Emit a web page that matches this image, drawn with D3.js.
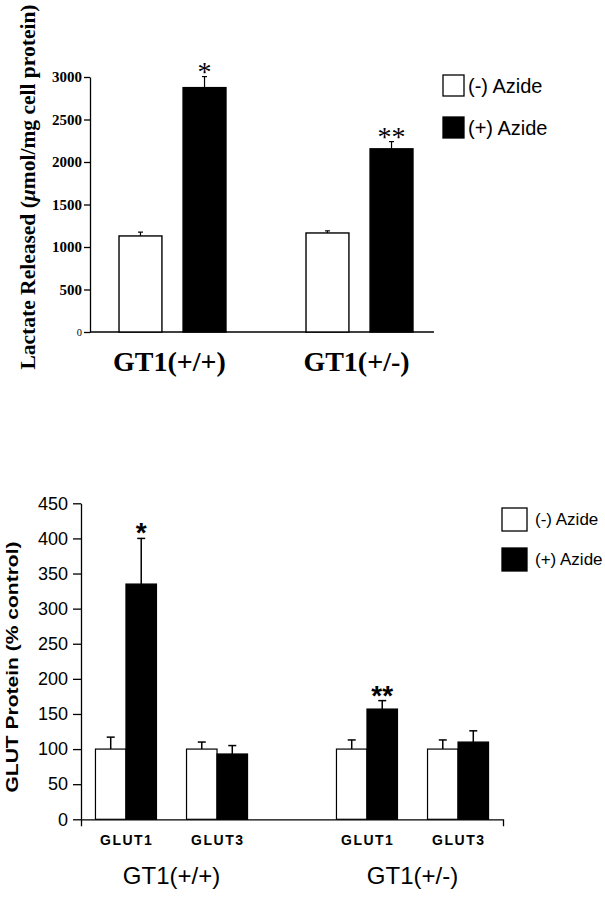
<!DOCTYPE html>
<html>
<head>
<meta charset="utf-8">
<script src="https://cdn.jsdelivr.net/npm/d3@7"></script>
<style>
  html, body { margin: 0; padding: 0; background: #fff; }
  svg { display: block; }
</style>
</head>
<body>
<div id="chart"></div>
<script>
// ---------- DATA ----------
const seriesNames = ["(-) Azide", "(+) Azide"];

// Top panel: lactate released
const lactateGroups = ["GT1(+/+)", "GT1(+/-)"];
const lactateMinus = [1130, 1165];
const lactatePlus = [2875, 2155];
const lactateMinusErr = [45, 25];
const lactatePlusErr = [130, 85];
const lactateSig = ["*", "**"];
const lactateTicks = [0, 500, 1000, 1500, 2000, 2500, 3000];

// Bottom panel: GLUT protein
const glutGenotypes = ["GT1(+/+)", "GT1(+/-)"];
const glutIsoforms = ["GLUT1", "GLUT3"];
// order: (+/+)GLUT1, (+/+)GLUT3, (+/-)GLUT1, (+/-)GLUT3
const glutMinus = [100, 100, 100, 100];
const glutPlus = [335, 93, 157, 110];
const glutMinusErr = [17, 10, 13, 13];
const glutPlusErr = [65, 12, 12, 16];
const glutSig = ["*", "", "**", ""];
const glutTicks = [0, 50, 100, 150, 200, 250, 300, 350, 400, 450];

// ---------- SVG ----------
const W = 605, H = 900;
const svg = d3.select("#chart").append("svg").attr("width", W).attr("height", H);
const serif = "'Liberation Serif', 'Times New Roman', serif";
const sans = "'Liberation Sans', Arial, sans-serif";
const fillFor = s => s === seriesNames[0] ? "#fff" : "#000";

// ================= TOP PANEL =================
(function () {
  const axisX = 90, x1 = 434;
  const y = d3.scaleLinear().domain([0, 3000]).range([332, 77]);
  const x0 = d3.scaleBand().domain(lactateGroups).range([79, 453]).paddingInner(0.428).paddingOuter(0.214);
  const xs = d3.scaleBand().domain(seriesNames).range([0, x0.bandwidth()]).paddingInner(0.33).paddingOuter(0);

  const g = svg.append("g");

  // y axis
  const ya = g.append("g").attr("transform", `translate(${axisX},0)`)
    .call(d3.axisLeft(y).tickValues(lactateTicks).tickSize(6).tickSizeOuter(0).tickPadding(2).tickFormat(d3.format("d")));
  ya.select(".domain").attr("stroke", "#000").attr("stroke-width", 1.3);
  ya.selectAll(".tick line").attr("stroke", "#000").attr("stroke-width", 1.3);
  ya.selectAll(".tick text").attr("font-family", serif).attr("font-weight", "bold")
    .attr("font-size", 15).attr("fill", "#000");
  ya.selectAll(".tick text").filter(d => d === 0).attr("font-size", 10.5).attr("font-weight", "normal");

  // baseline
  g.append("line").attr("x1", axisX).attr("x2", x1).attr("y1", y(0)).attr("y2", y(0))
    .attr("stroke", "#000").attr("stroke-width", 1.3);

  const rows = [];
  lactateGroups.forEach((grp, i) => {
    rows.push({ grp, s: seriesNames[0], v: lactateMinus[i], e: lactateMinusErr[i], sig: "" });
    rows.push({ grp, s: seriesNames[1], v: lactatePlus[i], e: lactatePlusErr[i], sig: lactateSig[i] });
  });

  // error bars (upper only)
  rows.forEach(r => {
    const cx = x0(r.grp) + xs(r.s) + xs.bandwidth() / 2;
    g.append("line").attr("x1", cx).attr("x2", cx).attr("y1", y(r.v)).attr("y2", y(r.v + r.e))
      .attr("stroke", "#000").attr("stroke-width", 1.2);
    g.append("line").attr("x1", cx - 2.5).attr("x2", cx + 2.5).attr("y1", y(r.v + r.e)).attr("y2", y(r.v + r.e))
      .attr("stroke", "#000").attr("stroke-width", 1.2);
    if (r.sig) {
      g.append("text").attr("x", cx).attr("y", y(r.v + r.e) + 4).attr("text-anchor", "middle")
        .attr("font-family", serif).attr("font-size", 28).attr("fill", "#000").text(r.sig);
    }
  });

  g.selectAll("rect.bar").data(rows).join("rect").attr("class", "bar")
    .attr("x", d => x0(d.grp) + xs(d.s))
    .attr("y", d => y(d.v))
    .attr("width", xs.bandwidth())
    .attr("height", d => y(0) - y(d.v))
    .attr("fill", d => fillFor(d.s))
    .attr("stroke", "#000").attr("stroke-width", 1.4);

  // group labels
  g.selectAll("text.grp").data(lactateGroups).join("text").attr("class", "grp")
    .attr("x", d => x0(d) + x0.bandwidth() / 2 - 3)
    .attr("y", 371).attr("text-anchor", "middle")
    .attr("font-family", serif).attr("font-weight", "bold").attr("font-size", 28).attr("fill", "#000")
    .text(d => d);

  // y label
  const yl = g.append("text").attr("transform", "translate(35,187) rotate(-90)")
    .attr("text-anchor", "middle").attr("font-family", serif).attr("font-weight", "bold")
    .attr("font-size", 21.5).attr("fill", "#000");
  yl.append("tspan").text("Lactate Released (");
  yl.append("tspan").attr("font-style", "italic").text("\u03bc");
  yl.append("tspan").text("mol/mg cell protein)");

  // legend
  const lg = g.append("g");
  seriesNames.forEach((s, i) => {
    lg.append("rect").attr("x", 443).attr("y", 75 + i * 42).attr("width", 21).attr("height", 21)
      .attr("fill", fillFor(s)).attr("stroke", "#000").attr("stroke-width", 1.3);
    lg.append("text").attr("x", 468).attr("y", 93 + i * 42).attr("font-family", sans)
      .attr("font-size", 20).attr("fill", "#000").text(s);
  });
})();

// ================= BOTTOM PANEL =================
(function () {
  const axisX = 81;
  const y = d3.scaleLinear().domain([0, 450]).range([819.3, 503.3]);
  const x0 = d3.scaleBand().domain(glutGenotypes).range([81, 503]).paddingInner(0.369).paddingOuter(0.06);
  const xi = d3.scaleBand().domain(glutIsoforms).range([0, x0.bandwidth()]).paddingInner(0.33).paddingOuter(0);
  const xs = d3.scaleBand().domain(seriesNames).range([0, xi.bandwidth()]).padding(0);

  const g = svg.append("g");

  // y axis
  const ya = g.append("g").attr("transform", `translate(${axisX},0)`)
    .call(d3.axisLeft(y).tickValues(glutTicks).tickSize(8).tickSizeOuter(0).tickPadding(5).tickFormat(d3.format("d")));
  ya.select(".domain").attr("stroke", "#000").attr("stroke-width", 1.3);
  ya.selectAll(".tick line").attr("stroke", "#000").attr("stroke-width", 1.3);
  ya.selectAll(".tick text").attr("font-family", sans).attr("font-size", 18).attr("fill", "#000");

  // x axis (domain only, outer ticks pointing down)
  const xa = g.append("g").attr("transform", `translate(0,${y(0)})`)
    .call(d3.axisBottom(x0).tickSize(0).tickSizeOuter(7).tickFormat(""));
  xa.select(".domain").attr("stroke", "#000").attr("stroke-width", 1.3);

  const rows = [];
  let k = 0;
  glutGenotypes.forEach(gt => {
    glutIsoforms.forEach(iso => {
      rows.push({ gt, iso, s: seriesNames[0], v: glutMinus[k], e: glutMinusErr[k], sig: "" });
      rows.push({ gt, iso, s: seriesNames[1], v: glutPlus[k], e: glutPlusErr[k], sig: glutSig[k] });
      k++;
    });
  });
  const bx = d => x0(d.gt) + xi(d.iso) + xs(d.s);

  rows.forEach(r => {
    const cx = bx(r) + xs.bandwidth() / 2;
    g.append("line").attr("x1", cx).attr("x2", cx).attr("y1", y(r.v)).attr("y2", y(r.v + r.e))
      .attr("stroke", "#000").attr("stroke-width", 1.5);
    g.append("line").attr("x1", cx - 4).attr("x2", cx + 4).attr("y1", y(r.v + r.e)).attr("y2", y(r.v + r.e))
      .attr("stroke", "#000").attr("stroke-width", 1.5);
    if (r.sig) {
      g.append("text").attr("x", cx).attr("y", y(r.v + r.e) + 4).attr("text-anchor", "middle")
        .attr("font-family", sans).attr("font-weight", "bold").attr("font-size", 28).attr("fill", "#000").text(r.sig);
    }
  });

  g.selectAll("rect.bar").data(rows).join("rect").attr("class", "bar")
    .attr("x", bx)
    .attr("y", d => y(d.v))
    .attr("width", xs.bandwidth())
    .attr("height", d => y(0) - y(d.v))
    .attr("fill", d => fillFor(d.s))
    .attr("stroke", "#000").attr("stroke-width", 1.2);

  // isoform labels
  glutGenotypes.forEach(gt => {
    glutIsoforms.forEach(iso => {
      g.append("text").attr("x", x0(gt) + xi(iso) + xi.bandwidth() / 2 + 0.75).attr("y", 845)
        .attr("text-anchor", "middle").attr("font-family", sans).attr("font-weight", "bold")
        .attr("font-size", 14).attr("letter-spacing", 1.5).attr("fill", "#000").text(iso);
    });
  });

  // genotype labels
  g.selectAll("text.grp").data(glutGenotypes).join("text").attr("class", "grp")
    .attr("x", d => x0(d) + x0.bandwidth() / 2)
    .attr("y", 884).attr("text-anchor", "middle")
    .attr("font-family", sans).attr("font-size", 24).attr("fill", "#000").text(d => d);

  // y label
  g.append("text").attr("transform", "translate(18,667) rotate(-90)")
    .attr("text-anchor", "middle").attr("font-family", sans).attr("font-weight", "bold")
    .attr("font-size", 16).attr("textLength", 251).attr("lengthAdjust", "spacingAndGlyphs")
    .attr("fill", "#000").text("GLUT Protein (% control)");

  // legend
  seriesNames.forEach((s, i) => {
    g.append("rect").attr("x", 502).attr("y", 508 + i * 40).attr("width", 25).attr("height", 23)
      .attr("fill", fillFor(s)).attr("stroke", "#000").attr("stroke-width", 1.3);
    g.append("text").attr("x", 535).attr("y", 525 + i * 40).attr("font-family", sans)
      .attr("font-size", 17).attr("fill", "#000").text(s);
  });
})();
</script>
</body>
</html>
